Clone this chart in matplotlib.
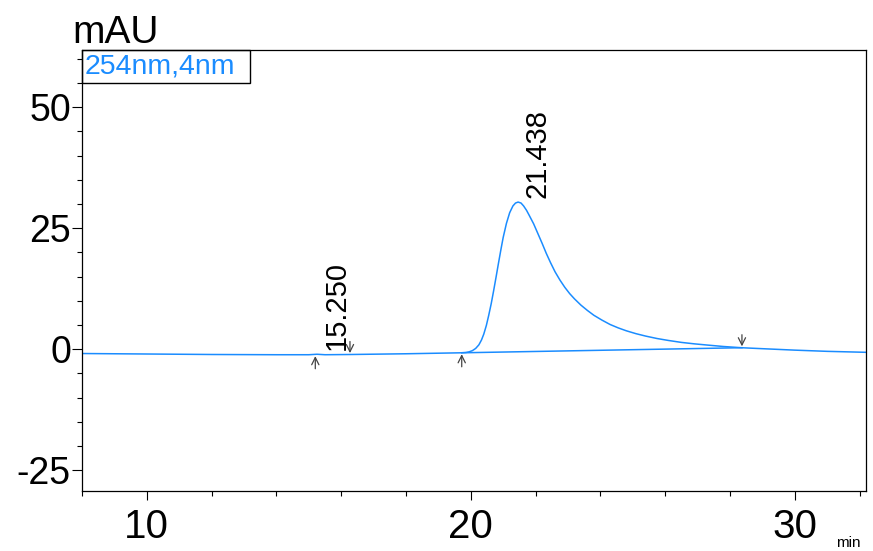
import matplotlib
matplotlib.use("Agg")
import matplotlib.pyplot as plt
from matplotlib.patches import Rectangle
from matplotlib.ticker import MultipleLocator

plt.rcParams['font.family'] = ['Liberation Sans', 'DejaVu Sans']
plt.rcParams['axes.unicode_minus'] = False

# chromatogram trace (min, mAU)
times = [8.0, 10.0, 12.0, 14.0, 15.0, 15.25, 15.5, 16.3, 18.0, 19.7, 19.85,
         19.95, 20.05, 20.15, 20.25, 20.33, 20.4, 20.48, 20.55, 20.63, 20.7,
         20.78, 20.85, 20.93, 21.0, 21.1, 21.2, 21.3, 21.38, 21.46, 21.55,
         21.63, 21.72, 21.8, 21.94, 22.07, 22.2, 22.33, 22.46, 22.6, 22.75,
         22.9, 23.05, 23.2, 23.4, 23.6, 23.8, 24.05, 24.3, 24.55, 24.8, 25.1,
         25.4, 25.75, 26.1, 26.5, 26.9, 27.3, 27.8, 28.35, 29.0, 30.0, 31.0,
         32.2]
mau = [-0.9, -1.0, -1.1, -1.15, -1.15, -1.05, -1.15, -1.1, -0.95, -0.75, -0.68,
       -0.55, -0.3, 0.15, 0.9, 1.9, 3.1, 4.9, 6.9, 9.4, 11.9,
       14.9, 17.6, 20.6, 23.1, 26.0, 28.2, 29.6, 30.2, 30.4, 30.2,
       29.6, 28.7, 27.7, 25.9, 23.9, 21.9, 19.8, 17.9, 16.0, 14.3,
       12.8, 11.5, 10.4, 9.1, 8.0, 7.0, 6.0, 5.1, 4.4, 3.8, 3.2,
       2.7, 2.2, 1.8, 1.4, 1.1, 0.85, 0.55, 0.3, 0.1, -0.2, -0.45,
       -0.65]

# integration baseline of the main peak
base_t = [19.72, 28.37]
base_y = [-0.75, 0.3]

# peak labels
peak_t = [15.25, 21.438]
peak_y = [-1.05, 30.4]
peak_labels = ['15.250', '21.438']

# peak start / end marks
start_t = [15.2, 19.72]
start_y = [-1.15, -0.75]
end_t = [16.27, 28.37]
end_y = [-1.1, 0.3]

blue = '#1a8cff'

fig = plt.figure(figsize=(8.73, 5.51), dpi=100)
ax = fig.add_axes([0.094, 0.109, 0.898, 0.8])

ax.plot(times, mau, color=blue, lw=1.1)
ax.plot(base_t, base_y, color=blue, lw=1.1)

for t, y in zip(start_t, start_y):
    ax.annotate('', xy=(t, y), xytext=(0, -14), textcoords='offset pixels',
                arrowprops=dict(arrowstyle='->', color='#444444', lw=0.9,
                                shrinkA=0, shrinkB=1, mutation_scale=13))
for t, y in zip(end_t, end_y):
    ax.annotate('', xy=(t, y), xytext=(0, 13), textcoords='offset pixels',
                arrowprops=dict(arrowstyle='->', color='#444444', lw=0.9,
                                shrinkA=0, shrinkB=1, mutation_scale=13))

for t, y, lab in zip(peak_t, peak_y, peak_labels):
    ax.annotate(lab, xy=(t, y), xytext=(6, 4), textcoords='offset pixels',
                rotation=90, ha='left', va='bottom', fontsize=21)

ax.set_xlim(8.0, 32.2)
ax.set_ylim(-29.3, 61.8)
ax.xaxis.set_major_locator(MultipleLocator(10))
ax.xaxis.set_minor_locator(MultipleLocator(2))
ax.yaxis.set_major_locator(MultipleLocator(25))
ax.yaxis.set_minor_locator(MultipleLocator(5))
ax.tick_params(axis='x', which='major', direction='out', length=6.5, width=0.8,
               labelsize=29, pad=6)
ax.tick_params(axis='x', which='minor', direction='out', length=3.6, width=0.8)
ax.tick_params(axis='y', which='major', direction='out', length=7, width=0.8,
               labelsize=27, pad=1)
ax.tick_params(axis='y', which='minor', direction='out', length=3.6, width=0.8)
for s in ax.spines.values():
    s.set_linewidth(0.9)

# channel box in upper left
ax.add_patch(Rectangle((0, 0.925), 0.214, 0.075, transform=ax.transAxes,
                       fill=False, edgecolor='black', lw=1.0, clip_on=False))
ax.text(0.003, 0.962, '254nm,4nm', transform=ax.transAxes, color=blue,
        fontsize=20.5, ha='left', va='center')

fig.text(0.0825, 0.922, 'mAU', fontsize=28, ha='left', va='baseline')
fig.text(0.958, 0.008, 'min', fontsize=11, ha='left', va='baseline')

fig.savefig('out.png', dpi=100)
